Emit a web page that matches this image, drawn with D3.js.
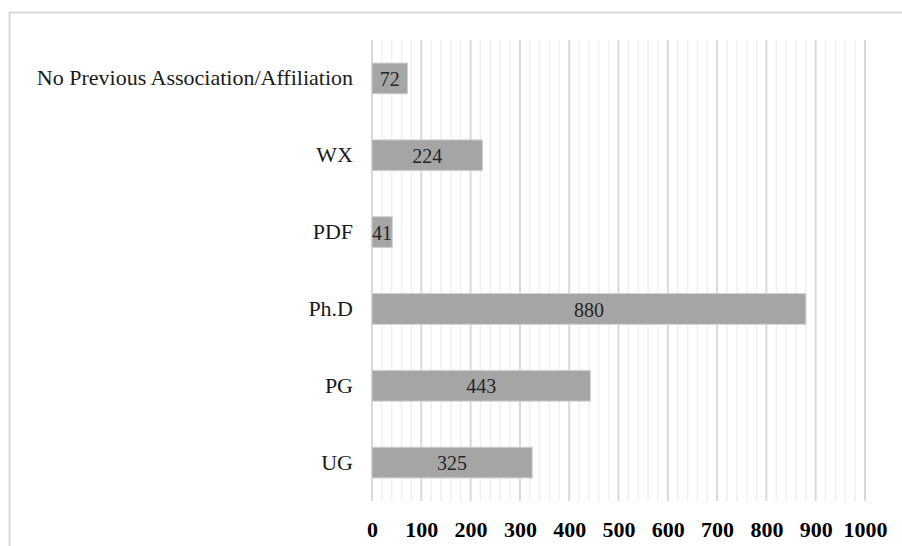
<!DOCTYPE html>
<html>
<head>
<meta charset="utf-8">
<script src="https://cdn.jsdelivr.net/npm/d3@7"></script>
<style>
  html, body { margin: 0; padding: 0; background: #fff; }
  svg { display: block; }
</style>
</head>
<body>
<svg id="chart" width="902" height="546"></svg>
<script>
// Respondents by previous association / affiliation
const categories = ["No Previous Association/Affiliation", "WX", "PDF", "Ph.D", "PG", "UG"];
const counts = [72, 224, 41, 880, 443, 325];
const tickValues = [0, 100, 200, 300, 400, 500, 600, 700, 800, 900, 1000];

const svg = d3.select("#chart");
const W = 902, H = 546;
const plot = { left: 372, right: 865, top: 40, bottom: 501 };
const serif = "'Liberation Serif', 'Times New Roman', serif";

// Outer frame (top and left edges visible)
svg.append("rect")
  .attr("x", 9.5).attr("y", 12.5)
  .attr("width", W + 20).attr("height", H + 20)
  .attr("fill", "none").attr("stroke", "#d9d9d9").attr("stroke-width", 2);

const x = d3.scaleLinear().domain([0, 1000]).range([plot.left, plot.right]);
const y = d3.scaleBand().domain(categories).range([plot.top, plot.bottom]).paddingInner(0.6).paddingOuter(0.3);

// Minor gridlines every 20
const minor = d3.range(0, 1001, 20).filter(v => v % 100 !== 0);
svg.append("g").selectAll("line").data(minor).join("line")
  .attr("x1", d => x(d)).attr("x2", d => x(d))
  .attr("y1", plot.top).attr("y2", plot.bottom)
  .attr("stroke", "#f0f0f0").attr("stroke-width", 1.5);

// Major gridlines every 100
svg.append("g").selectAll("line").data(tickValues).join("line")
  .attr("x1", d => x(d)).attr("x2", d => x(d))
  .attr("y1", plot.top).attr("y2", plot.bottom)
  .attr("stroke", "#d9d9d9").attr("stroke-width", 2);

// Bars
svg.append("g").selectAll("rect").data(categories).join("rect")
  .attr("x", x(0))
  .attr("y", d => y(d))
  .attr("width", (d, i) => x(counts[i]) - x(0))
  .attr("height", y.bandwidth())
  .attr("fill", "#a5a5a5")
  .attr("stroke", "#d0d0d0").attr("stroke-width", 1);

// Value labels inside bars
svg.append("g").selectAll("text").data(categories).join("text")
  .attr("x", (d, i) => (x(0) + x(counts[i])) / 2)
  .attr("y", d => y(d) + y.bandwidth() / 2)
  .attr("dy", "0.38em")
  .attr("text-anchor", "middle")
  .attr("font-family", serif)
  .attr("font-size", 20)
  .attr("fill", "#262626")
  .text((d, i) => counts[i]);

// Category axis labels
const yAxis = d3.axisLeft(y).tickSize(0).tickPadding(19);
const gy = svg.append("g").attr("transform", `translate(${plot.left},0)`).call(yAxis);
gy.select(".domain").remove();
gy.selectAll("text")
  .attr("font-family", serif)
  .attr("font-size", 22)
  .attr("fill", "#1a1a1a");

// Value axis labels
const xAxis = d3.axisBottom(x).tickValues(tickValues).tickFormat(d3.format("d")).tickSize(0).tickPadding(20);
const gx = svg.append("g").attr("transform", `translate(0,${plot.bottom})`).call(xAxis);
gx.select(".domain").remove();
gx.selectAll("text")
  .attr("font-family", serif)
  .attr("font-size", 22)
  .attr("font-weight", "bold")
  .attr("fill", "#000");
</script>
</body>
</html>
